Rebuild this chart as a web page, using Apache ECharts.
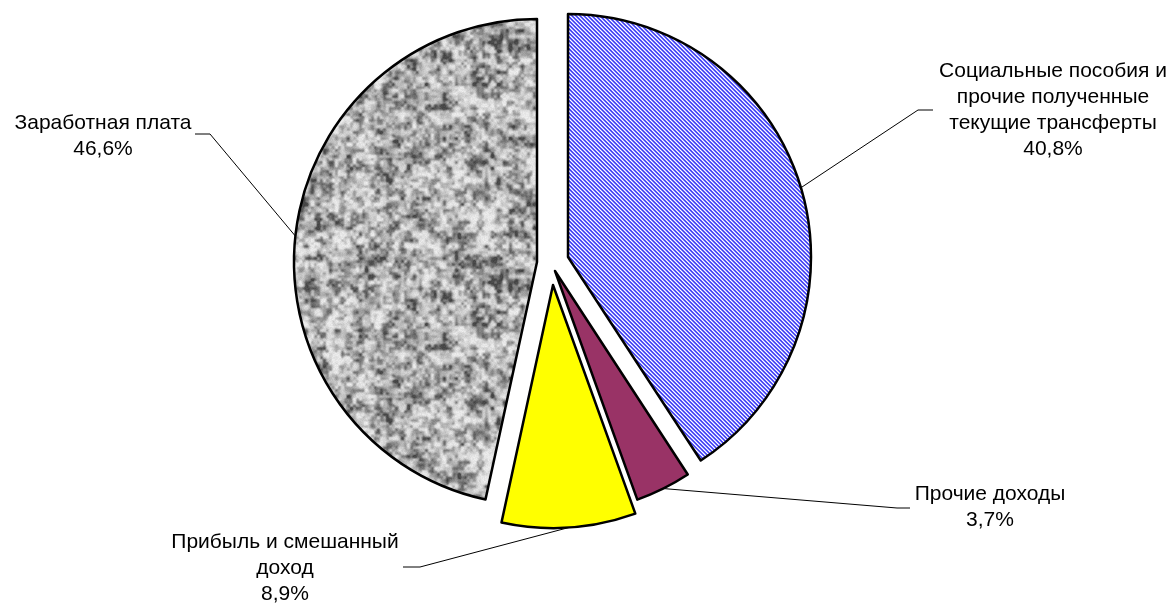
<!DOCTYPE html>
<html><head><meta charset="utf-8">
<script src="https://cdn.jsdelivr.net/npm/echarts/dist/echarts.min.js"></script>
<style>html,body{margin:0;padding:0;background:#fff}#c{width:1170px;height:604px}</style>
</head><body><div id="c"></div><script>
// ---- data ----
const categories = ['Социальные пособия и\nпрочие полученные\nтекущие трансферты', 'Прочие доходы', 'Прибыль и смешанный\nдоход', 'Заработная плата'];
const values = [40.8, 3.7, 8.9, 46.6];

// ---- layout (per-slice exploded centres, label anchors) ----
const sliceCenters = [[568, 257], [555, 271], [553, 285], [537, 262]];
const pieRadius = 243;
const labelPos = [[1053, 110], [990, 507], [285, 568], [103, 136]];
const lineElbow = [[918, 110], [897, 508], [420, 567], [210, 134]];
const lineEnd = [[933, 110], [910, 508], [403, 567], [195, 134]];

// ---- textures ----
function blueTile() {
  const c = document.createElement('canvas'); c.width = c.height = 4;
  const ctx = c.getContext('2d');
  const cols = ['#3c3cf0', '#6a6afc', '#ffffff', '#a4a4ff'];
  for (let x = 0; x < 4; x++) for (let y = 0; y < 4; y++) {
    ctx.fillStyle = cols[((x - y) % 4 + 4) % 4];
    ctx.fillRect(x, y, 1, 1);
  }
  return c;
}
function grayTile() {
  const S = 240;
  const c = document.createElement('canvas'); c.width = c.height = S;
  const ctx = c.getContext('2d');
  let seed = 424242;
  const rnd = () => { seed = (seed * 1103515245 + 12345) & 0x7fffffff; return seed / 0x7fffffff; };
  function grid(step) {
    const n = S / step, g = [];
    for (let i = 0; i < n; i++) { g.push([]); for (let j = 0; j < n; j++) g[i].push(rnd()); }
    return { n, step, g };
  }
  function sample(o, x, y) {
    const fx = x / o.step, fy = y / o.step;
    const i0 = Math.floor(fx), j0 = Math.floor(fy);
    const tx = fx - i0, ty = fy - j0;
    const sx = tx * tx * (3 - 2 * tx), sy = ty * ty * (3 - 2 * ty);
    const a = o.g[i0 % o.n][j0 % o.n], b = o.g[(i0 + 1) % o.n][j0 % o.n];
    const cc = o.g[i0 % o.n][(j0 + 1) % o.n], d = o.g[(i0 + 1) % o.n][(j0 + 1) % o.n];
    return (a * (1 - sx) + b * sx) * (1 - sy) + (cc * (1 - sx) + d * sx) * sy;
  }
  const o1 = grid(3), o2 = grid(6), o3 = grid(20);
  const img = ctx.createImageData(S, S);
  for (let y = 0; y < S; y++) for (let x = 0; x < S; x++) {
    let v = 0.3 * sample(o1, x, y) + 0.45 * sample(o2, x, y) + 0.25 * sample(o3, x, y);
    v = Math.max(0, Math.min(1, (v - 0.22) / 0.56));
    v = Math.pow(v, 1.5);
    let gv = 232 - 160 * v + (rnd() - 0.5) * 14;
    gv = Math.max(55, Math.min(246, gv));
    const k = (y * S + x) * 4;
    img.data[k] = img.data[k + 1] = img.data[k + 2] = gv; img.data[k + 3] = 255;
  }
  ctx.putImageData(img, 0, 0);
  return c;
}
const fills = [
  { image: blueTile(), repeat: 'repeat' },
  '#993366',
  '#ffff00',
  { image: grayTile(), repeat: 'repeat' }
];

const fmtPct = v => v.toFixed(1).replace('.', ',') + '%';

const series = categories.map((_, k) => ({
  type: 'pie',
  center: sliceCenters[k],
  radius: pieRadius,
  startAngle: 90,
  clockwise: true,
  animation: false,
  silent: true,
  avoidLabelOverlap: false,
  data: categories.map((name, i) => ({
    name, value: values[i],
    itemStyle: i === k
      ? { color: fills[i], borderColor: '#000', borderWidth: 2.5 }
      : { color: 'rgba(0,0,0,0)', borderWidth: 0 },
    label: { show: i === k },
    labelLine: { show: i === k }
  })),
  label: {
    position: 'outside',
    formatter: p => categories[p.dataIndex] + '\n' + fmtPct(values[p.dataIndex]),
    color: '#000',
    fontFamily: 'Liberation Sans, Arial, sans-serif',
    fontSize: 21,
    lineHeight: 26,
    align: 'center'
  },
  labelLine: { length: 20, length2: 15, lineStyle: { color: '#000', width: 1 } },
  labelLayout: p => {
    if (p.dataIndex !== k || !p.labelLinePoints) return {};
    return {
      x: labelPos[k][0], y: labelPos[k][1],
      align: 'center', verticalAlign: 'middle',
      labelLinePoints: [p.labelLinePoints[0], lineElbow[k], lineEnd[k]]
    };
  }
}));

const chart = echarts.init(document.getElementById('c'), null, { renderer: 'canvas' });
chart.setOption({ backgroundColor: '#fff', animation: false, series });
</script></body></html>
